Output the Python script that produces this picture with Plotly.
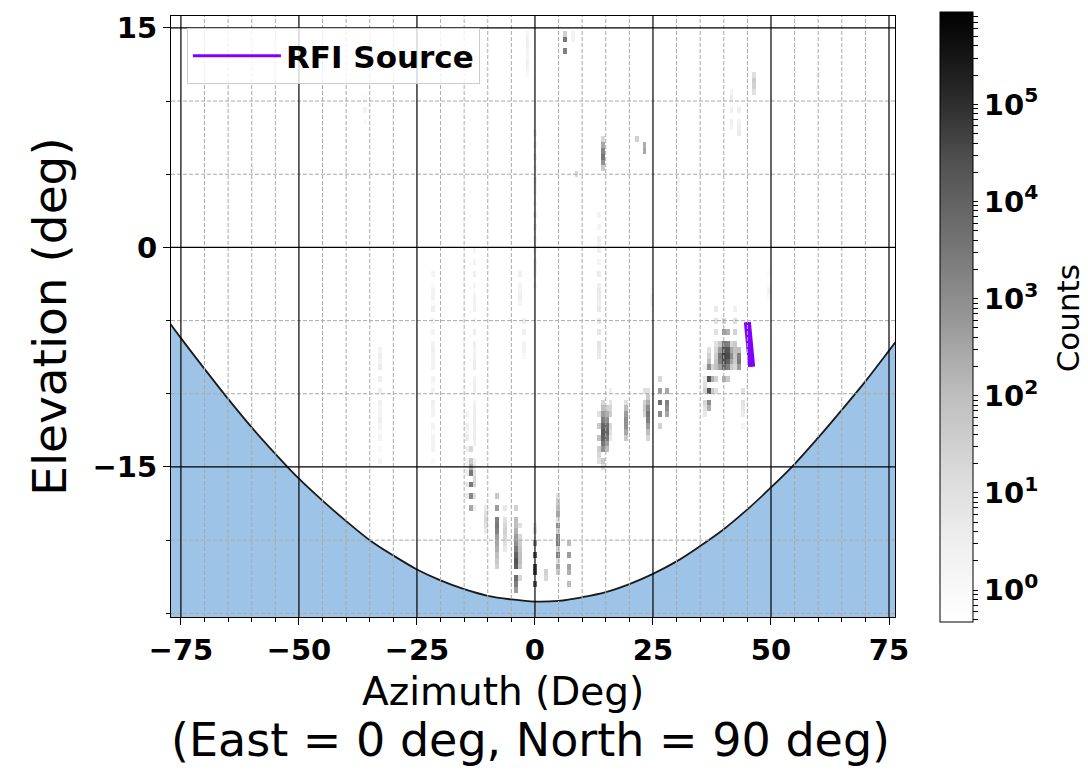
import numpy as np
import plotly.graph_objects as go

# ---------------- data ----------------
# horizon / ground boundary (azimuth deg -> elevation deg)
curve_az = [-80, -75, -70, -65, -60, -55, -50, -45, -40, -35, -30, -25, -20, -15, -10, -5,
            0, 5, 10, 15, 20, 25, 30, 35, 40, 45, 50, 55, 60, 65, 70, 75, 80]
curve_el = [-4.0, -6.2, -8.3, -10.35, -12.3, -14.1, -15.8, -17.3, -18.7, -20.0, -21.05, -22.0,
            -22.75, -23.35, -23.8, -24.05, -24.2, -24.15, -23.9, -23.55, -23.0, -22.3, -21.45,
            -20.4, -19.25, -17.9, -16.4, -14.8, -13.0, -11.1, -9.15, -7.05, -4.9]

# RFI source track
rfi_az = [45.0, 45.3, 45.6, 45.9]
rfi_el = [-5.1, -6.2, -7.2, -8.15]

# streaks of the 2-D histogram: azimuth, top elevation, counts per 0.4 deg step downward
streak_az = [6.4, 14.8, 23.5, 21.8, 46.6, 8.9,
             40.0, 40.8, 39.2, 43.2, 41.6, 36.7, 37.5,
             26.4, 28.0, 23.9, 23.0, 19.6, 14.4, 15.2,
             -13.6, -7.6, -4.0, 0.4, 4.4, 7.0, -10.0, 2.8,
             -33.0, -21.2, -12.8, 0.0, 13.8, 42.0, 43.0, -1.6, -2.4, 8.0,
             -45.0, -36.0, 30.0, 20.0, 60.0, -60.0, 25.0, 50.0, 38.4, 44.0, -14.4, -3.2,
             42.4, 38.4, 36.0, 13.6, 16.0, -3.2, 0.0, 5.2, -6.8, -12.8]
streak_top = [14.8, 7.3, 6.9, 7.3, 11.7, 4.9,
              -5.2, -5.6, -6.4, -6.8, -6.4, -6.8, -8.0,
              -9.2, -9.6, -9.8, -10.0, -10.4, -10.4, -10.8,
              -13.6, -16.8, -17.6, -20.0, -17.2, -20.0, -17.8, -22.4,
              -6.8, -1.6, 0.0, 8.0, 2.0, 10.8, 9.2, 14.6, -4.8, 14.8,
              14.0, 10.0, 5.0, 12.0, 12.0, 6.0, -3.0, -2.0, -4.0, -9.6, -11.6, -1.6,
              -4.4, -6.0, -8.4, -11.2, -10.0, -18.8, -19.2, -18.4, -17.6, -14.4]
streak_counts = [
    [30, 800, 3000, 2000, 200],
    [20, 300, 1500, 3000, 800, 50],
    [200, 300],
    [30],
    [10, 40, 30, 10],
    [20],
    [20, 100, 500, 3000, 20000, 50000, 30000, 8000, 1000, 200, 50],
    [30, 200, 2000, 20000, 30000, 10000, 2000, 300, 50],
    [50, 500, 3000, 2000, 400, 50],
    [100, 2000, 3000, 500, 100],
    [20, 300, 1000, 300, 50],
    [10, 30, 100, 300, 1000, 5000, 20000, 20000, 8000, 1000, 200],
    [5, 20, 100, 200, 50],
    [20, 100, 500, 3000, 5000, 1000, 200, 30],
    [30, 300, 2000, 1000, 300, 50],
    [10, 50, 200, 1000, 3000, 2000, 500, 100, 20],
    [10, 30, 50, 30, 10],
    [10, 100, 500, 1000, 800, 300, 50],
    [20, 100, 500, 2000, 8000, 15000, 10000, 3000, 800, 200, 50, 10],
    [30, 200, 1000, 5000, 8000, 3000, 500, 100, 20],
    [5, 20, 50, 200, 1000, 3000, 2000, 3000, 1500, 800, 300, 50],
    [10, 50, 200, 500, 2000, 3000, 2000, 500, 300, 200, 100, 50, 30],
    [10, 30, 100, 100, 200, 500, 1000, 3000, 10000, 20000, 8000, 15000, 5000, 2000, 500],
    [50, 500, 3000, 10000, 20000, 10000, 30000, 5000, 2000],
    [10, 50, 100, 300, 200, 1000, 2000, 1000, 3000, 2000, 800, 300, 100, 50],
    [20, 100, 300, 500, 300, 400, 200, 100],
    [5, 10, 20, 10, 5],
    [30, 20],
    [2, 3, 2, 3, 4, 3, 2, 3, 2, 3, 2, 2, 3, 2, 1, 2, 2, 1, 1, 2],
    [1, 2, 1, 2, 2, 1, 2, 3, 2, 2, 1, 2, 2, 3, 2, 2, 1, 2, 2, 1, 2, 2, 3, 2, 1, 2, 2, 1, 2, 2, 1, 2, 1],
    [1, 2, 2, 1, 2, 3, 2, 1, 2, 2, 3, 2, 2, 1, 2, 3, 3, 2, 2, 3, 4, 3, 2, 3, 3, 2, 2, 3, 3, 4, 3, 3, 4, 3],
    [2, 3, 2, 2, 3, 2, 1, 2, 3, 2, 2, 1, 2, 2, 3, 2, 2, 3, 2, 1, 2, 2, 3, 2, 2, 1, 2],
    [2, 1, 2, 3, 2, 2, 3, 2, 2, 3, 4, 3, 5, 4, 3, 4, 5, 6, 5, 4, 6, 8, 6, 5],
    [2, 3, 4, 3, 2, 3, 2],
    [3, 2, 3, 4, 2],
    [2, 3, 3, 2, 2, 3, 2, 1],
    [2, 3, 2, 3, 2, 2, 1],
    [2, 1, 2],
    [1, 2, 1, 1, 2],
    [1, 1, 2, 1],
    [1, 2, 1, 1, 2, 1],
    [1, 1, 2, 1],
    [1, 2, 1, 1],
    [1, 1, 2, 1],
    [1, 2, 2, 1],
    [1, 1, 2, 1],
    [3, 5, 8, 6, 10, 8, 6, 5, 4, 3],
    [5, 10, 8, 6, 4, 3, 2],
    [2, 3, 2, 3, 4, 3, 3, 2, 2, 3, 4, 5, 6, 5],
    [2, 3, 2, 2, 3, 2],
    [3, 5, 10, 20, 30, 50, 80, 60, 40, 20, 10],
    [5, 10, 20, 40, 60, 80, 50, 30, 20, 10],
    [3, 5, 10, 20, 30, 20, 10, 5],
    [5, 10, 20, 50, 80, 60, 40, 30, 20, 10],
    [3, 8, 20, 40, 30, 20, 10, 5],
    [5, 10, 20, 40, 60, 80, 100, 60, 40, 20],
    [5, 10, 20, 40, 60, 80, 100, 60, 40, 20],
    [5, 10, 20, 30, 50, 40, 30, 20, 10, 5],
    [3, 5, 10, 20, 30, 20, 10, 5],
    [3, 5, 10, 20, 30, 20, 10, 5, 3],
]

x_major = [-75, -50, -25, 0, 25, 50, 75]
y_major = [-15, 0, 15]

# ---------------- build histogram grid ----------------
AZ_BIN, EL_BIN = 0.8, 0.4
az_centers = np.round(-76.8 + AZ_BIN * np.arange(193), 3)
el_centers = np.round(-25.0 + EL_BIN * np.arange(103), 3)
z = np.full((len(el_centers), len(az_centers)), np.nan)
for a, top, counts in zip(streak_az, streak_top, streak_counts):
    i = int(round((a - az_centers[0]) / AZ_BIN))
    for k, c in enumerate(counts):
        j = int(round((top - k * EL_BIN - el_centers[0]) / EL_BIN))
        if 0 <= i < z.shape[1] and 0 <= j < z.shape[0]:
            prev = z[j, i]
            z[j, i] = c if np.isnan(prev) else max(prev, c)
zlog = np.log10(z)

greys = [[0.0, '#ffffff'], [0.125, '#f0f0f0'], [0.25, '#d9d9d9'], [0.375, '#bdbdbd'],
         [0.5, '#969696'], [0.625, '#737373'], [0.75, '#525252'], [0.875, '#252525'], [1.0, '#000000']]

# colorbar ticks (decades labelled, intermediate log ticks unlabelled)
cb_vals, cb_text = [], []
for d in range(-1, 6):
    for m in range(1, 10):
        v = d + np.log10(m)
        if -0.33 <= v <= 5.95:
            cb_vals.append(v)
            cb_text.append('10<sup>%d</sup>' % d if m == 1 else '')

FONT = 'DejaVu Sans'
fig = go.Figure()

fig.add_trace(go.Heatmap(
    x=az_centers, y=el_centers, z=zlog, colorscale=greys, zmin=-0.33, zmax=5.95,
    showscale=True, hoverongaps=False, showlegend=False,
    colorbar=dict(
        x=1.062, xanchor='left', xpad=0, ypad=0, y=0.499, yanchor='middle',
        lenmode='pixels', len=610, thickness=33,
        outlinecolor='black', outlinewidth=1,
        tickvals=cb_vals, ticktext=cb_text,
        ticks='outside', ticklen=5, tickwidth=1, tickcolor='black',
        tickfont=dict(family=FONT, size=29, color='black', weight='bold'),
    ),
))

# ground region
fig.add_trace(go.Scatter(x=curve_az, y=[-40] * len(curve_az), mode='lines',
                         line=dict(width=0, color='rgba(0,0,0,0)'), showlegend=False, hoverinfo='skip'))
fig.add_trace(go.Scatter(x=curve_az, y=curve_el, mode='lines', fill='tonexty',
                         fillcolor='#9dc3e6', line=dict(color='#1a1a1a', width=1.8, shape='spline'),
                         showlegend=False))

# RFI source: thick track, thinner legend entry on top of it
fig.add_trace(go.Scatter(x=rfi_az, y=rfi_el, mode='lines', showlegend=False,
                         line=dict(color='#8000ff', width=7)))
fig.add_trace(go.Scatter(x=rfi_az, y=rfi_el, mode='lines', name='RFI Source',
                         line=dict(color='#8000ff', width=3)))

# grid lines drawn above fill
shapes = []
for v in range(-75, 80, 5):
    if v in x_major:
        continue
    shapes.append(dict(type='line', xref='x', yref='paper', x0=v, x1=v, y0=0, y1=1, layer='above',
                       line=dict(color='#aaaaaa', width=1, dash='4px,2px')))
for v in [-25, -20, -10, -5, 5, 10]:
    shapes.append(dict(type='line', xref='paper', yref='y', x0=0, x1=1, y0=v, y1=v, layer='above',
                       line=dict(color='#aaaaaa', width=1, dash='4px,2px')))
for v in x_major:
    shapes.append(dict(type='line', xref='x', yref='paper', x0=v, x1=v, y0=0, y1=1, layer='above',
                       line=dict(color='black', width=1.2)))
for v in y_major:
    shapes.append(dict(type='line', xref='paper', yref='y', x0=0, x1=1, y0=v, y1=v, layer='above',
                       line=dict(color='black', width=1.2)))

annotations = [
    dict(text='Azimuth (Deg)', xref='paper', yref='paper', x=0.4586, y=-0.124,
         xanchor='center', yanchor='middle', showarrow=False,
         font=dict(family=FONT, size=39, color='black')),
    dict(text='(East = 0 deg, North = 90 deg)', xref='paper', yref='paper', x=0.4966, y=-0.205,
         xanchor='center', yanchor='middle', showarrow=False,
         font=dict(family=FONT, size=46, color='black')),
    dict(text='Counts', xref='paper', yref='paper', x=1.239, y=0.497, textangle=-90,
         xanchor='center', yanchor='middle', showarrow=False,
         font=dict(family=FONT, size=31, color='black')),
]

fig.update_layout(
    width=1088, height=773,
    margin=dict(l=171, r=193, t=12, b=156),
    paper_bgcolor='white', plot_bgcolor='white',
    shapes=shapes, annotations=annotations,
    showlegend=True,
    legend=dict(x=0.022, y=0.98, xanchor='left', yanchor='top', itemwidth=88,
                bgcolor='rgba(255,255,255,0.8)', bordercolor='#cccccc', borderwidth=1,
                font=dict(family=FONT, size=31, color='black', weight='bold')),
    xaxis=dict(range=[-77.1, 76.27], tickvals=x_major, ticktext=[str(v).replace('-', '\u2212') for v in x_major],
               showgrid=False, zeroline=False, showline=True, mirror=True, linecolor='black', linewidth=1.2,
               ticks='outside', ticklen=7, tickwidth=1.2, tickcolor='black',
               minor=dict(tickvals=[v for v in range(-75, 80, 5) if v not in x_major], ticks='outside',
                          ticklen=4, tickwidth=1, tickcolor='black', showgrid=False),
               tickfont=dict(family=FONT, size=29, color='black', weight='bold'),
               automargin=False),
    yaxis=dict(range=[-25.25, 15.81], tickvals=y_major, ticktext=[str(v).replace('-', '\u2212') for v in y_major],
               showgrid=False, zeroline=False, showline=True, mirror=True, linecolor='black', linewidth=1.2,
               ticks='outside', ticklen=7, tickwidth=1.2, tickcolor='black',
               minor=dict(tickvals=[-25, -20, -10, -5, 5, 10], ticks='outside',
                          ticklen=4, tickwidth=1, tickcolor='black', showgrid=False),
               tickfont=dict(family=FONT, size=29, color='black', weight='bold'),
               title=dict(text='Elevation (deg)', standoff=10,
                          font=dict(family=FONT, size=47, color='black')),
               automargin=False),
)

fig.write_html('out.html')
